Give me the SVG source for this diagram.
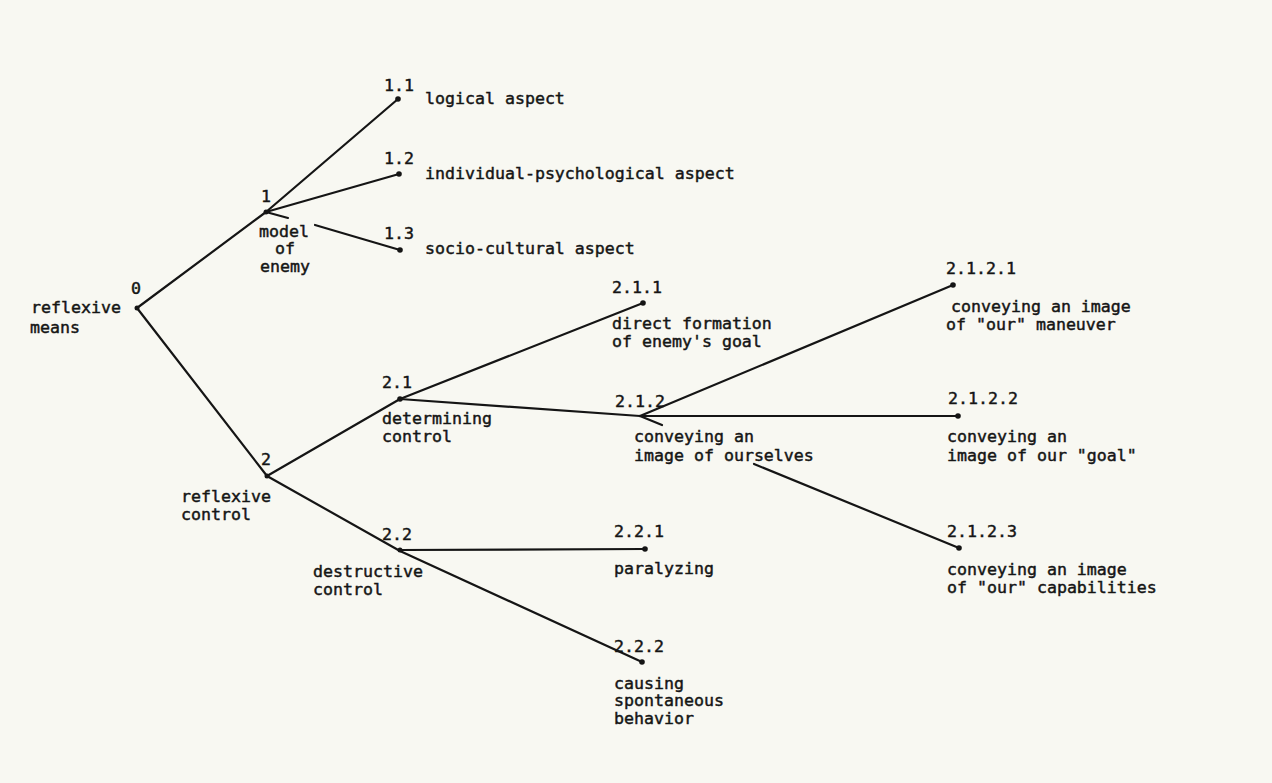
<svg xmlns="http://www.w3.org/2000/svg" width="1272" height="783" viewBox="0 0 1272 783">
<style>
.t{font-family:"DejaVu Sans Mono","Liberation Mono",monospace;font-size:16.6px;fill:#151515;stroke:#151515;stroke-width:0.45}
.c{fill:none;stroke:#151515;stroke-width:2.2;stroke-linecap:round;stroke-linejoin:round}
.d{fill:#151515}
</style>
<rect width="1272" height="783" fill="#f8f8f2"/>
<g id="connectors">
<polyline class="c" points="137,308 266,212 398,99"/>
<line class="c" x1="266" y1="212" x2="399" y2="174"/>
<line class="c" x1="266" y1="212" x2="288" y2="218"/>
<line class="c" x1="315" y1="225" x2="400" y2="250"/>
<line class="c" x1="137" y1="308" x2="267" y2="476"/>
<line class="c" x1="267" y1="476" x2="400" y2="399"/>
<line class="c" x1="400" y1="399" x2="643" y2="303"/>
<line class="c" x1="400" y1="399" x2="640" y2="416"/>
<line class="c" x1="640" y1="416" x2="953" y2="285"/>
<line class="c" x1="640" y1="416" x2="958" y2="416"/>
<line class="c" x1="640" y1="416" x2="662" y2="425"/>
<line class="c" x1="754" y1="464" x2="959" y2="548"/>
<polyline class="c" points="267,476 400,551 642,662"/>
<line class="c" x1="400" y1="550" x2="645" y2="549"/>
</g>
<g id="n0"><circle class="d" cx="137" cy="308" r="2.5"/><text class="t" x="131" y="294">0</text><text class="t" x="31" y="313">reflexive</text><text class="t" x="30" y="333">means</text></g>
<g id="n1"><circle class="d" cx="266" cy="212" r="2.5"/><text class="t" x="261" y="202">1</text><text class="t" x="259" y="237">model</text><text class="t" x="275" y="254">of</text><text class="t" x="260" y="272">enemy</text></g>
<g id="n1_1"><circle class="d" cx="398" cy="99" r="2.8"/><text class="t" x="384" y="91">1.1</text><text class="t" x="425" y="104">logical aspect</text></g>
<g id="n1_2"><circle class="d" cx="399" cy="174" r="2.8"/><text class="t" x="384" y="164">1.2</text><text class="t" x="425" y="179">individual-psychological aspect</text></g>
<g id="n1_3"><circle class="d" cx="400" cy="250" r="2.8"/><text class="t" x="384" y="239">1.3</text><text class="t" x="425" y="254">socio-cultural aspect</text></g>
<g id="n2"><circle class="d" cx="267" cy="476" r="2.5"/><text class="t" x="261" y="465">2</text><text class="t" x="181" y="502">reflexive</text><text class="t" x="181" y="520">control</text></g>
<g id="n2_1"><circle class="d" cx="400" cy="399" r="2.8"/><text class="t" x="382" y="388">2.1</text><text class="t" x="382" y="424">determining</text><text class="t" x="382" y="442">control</text></g>
<g id="n2_1_1"><circle class="d" cx="643" cy="303" r="2.8"/><text class="t" x="612" y="293">2.1.1</text><text class="t" x="612" y="329">direct formation</text><text class="t" x="612" y="347">of enemy's goal</text></g>
<g id="n2_1_2"><text class="t" x="615" y="407">2.1.2</text><text class="t" x="634" y="442">conveying an</text><text class="t" x="634" y="461">image of ourselves</text></g>
<g id="n2_1_2_1"><circle class="d" cx="953" cy="285" r="2.8"/><text class="t" x="946" y="274">2.1.2.1</text><text class="t" x="951" y="312">conveying an image</text><text class="t" x="946" y="330">of "our" maneuver</text></g>
<g id="n2_1_2_2"><circle class="d" cx="958" cy="416" r="2.8"/><text class="t" x="948" y="404">2.1.2.2</text><text class="t" x="947" y="442">conveying an</text><text class="t" x="947" y="461">image of our "goal"</text></g>
<g id="n2_1_2_3"><circle class="d" cx="959" cy="548" r="2.8"/><text class="t" x="947" y="537">2.1.2.3</text><text class="t" x="947" y="575">conveying an image</text><text class="t" x="947" y="593">of "our" capabilities</text></g>
<g id="n2_2"><circle class="d" cx="400" cy="550" r="2.5"/><text class="t" x="382" y="540">2.2</text><text class="t" x="313" y="577">destructive</text><text class="t" x="313" y="595">control</text></g>
<g id="n2_2_1"><circle class="d" cx="645" cy="549" r="2.8"/><text class="t" x="614" y="537">2.2.1</text><text class="t" x="614" y="574">paralyzing</text></g>
<g id="n2_2_2"><circle class="d" cx="642" cy="662" r="2.8"/><text class="t" x="614" y="652">2.2.2</text><text class="t" x="614" y="689">causing</text><text class="t" x="614" y="706">spontaneous</text><text class="t" x="614" y="724">behavior</text></g>
</svg>
